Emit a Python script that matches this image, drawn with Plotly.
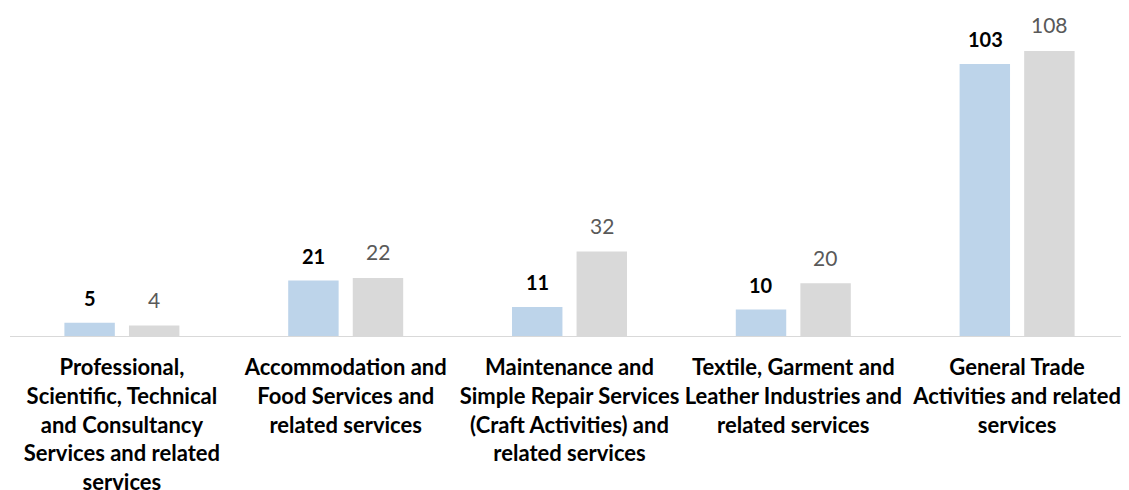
import plotly.graph_objects as go

categories = [
    "Professional,<br>Scientific, Technical<br>and Consultancy<br>Services and related<br>services",
    "Accommodation and<br>Food Services and<br>related services",
    "Maintenance and<br>Simple Repair Services<br>(Craft Activities) and<br>related services",
    "Textile, Garment and<br>Leather Industries and<br>related services",
    "General Trade<br>Activities and related<br>services",
]
series1_values = [5, 21, 11, 10, 103]
series2_values = [4, 22, 32, 20, 108]
series_names = ["Series 1", "Series 2"]

BLUE = "#BDD4EA"
GRAY = "#D9D9D9"
FONT = "Lato"

fig = go.Figure()
fig.add_trace(go.Bar(x=categories, y=series1_values, name=series_names[0],
                     marker=dict(color=BLUE, line=dict(width=0))))
fig.add_trace(go.Bar(x=categories, y=series2_values, name=series_names[1],
                     marker=dict(color=GRAY, line=dict(width=0))))

annotations = []
for c, v in zip(categories, series1_values):
    annotations.append(dict(x=c, y=v, xref="x", yref="y", text=f"<b>{v}</b>",
                            showarrow=False, xshift=-32, yshift=25, yanchor="middle",
                            font=dict(family=FONT, size=20, color="#000000")))
for c, v in zip(categories, series2_values):
    annotations.append(dict(x=c, y=v, xref="x", yref="y", text=f"{v}",
                            showarrow=False, xshift=32, yshift=26, yanchor="middle",
                            font=dict(family=FONT, size=21, color="#595959")))

# The page body adds an 8px offset; margins compensate for it.
fig.update_layout(
    width=1129, height=490,
    margin=dict(l=2, r=8, t=12, b=162),
    paper_bgcolor="white", plot_bgcolor="white",
    barmode="group", bargap=0.423, bargroupgap=0.219,
    showlegend=False,
    annotations=annotations,
    font=dict(family=FONT),
    xaxis=dict(showline=True, linecolor="#D9D9D9", linewidth=1,
               showgrid=False, ticks="", ticklabelstandoff=12,
               tickfont=dict(family=FONT, size=22, color="#000000"),
               tickangle=0),
    yaxis=dict(visible=False, range=[0, 119.7], showgrid=False, zeroline=False),
)
fig.update_xaxes(tickprefix="<b>", ticksuffix="</b>")

fig.write_html("out.html")
